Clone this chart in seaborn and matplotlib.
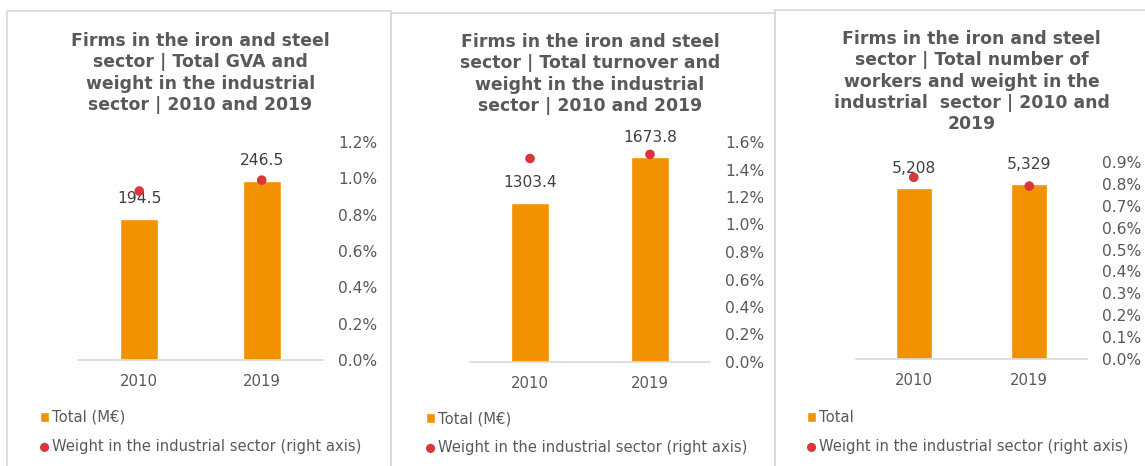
import matplotlib
matplotlib.use("Agg")
import matplotlib.pyplot as plt
from matplotlib.patches import Rectangle
from matplotlib.ticker import FuncFormatter, MultipleLocator
import seaborn as sns
import pandas as pd

# ---- data -------------------------------------------------------------
years = ["2010", "2019"]

gva_total = [194.5, 246.5]            # M€
gva_weight = [0.93, 0.99]             # % of industrial sector

turnover_total = [1303.4, 1673.8]     # M€
turnover_weight = [1.48, 1.51]

workers_total = [5208, 5329]          # persons
workers_weight = [0.83, 0.79]

titles = [
    "Firms in the iron and steel\nsector | Total GVA and\nweight in the industrial\nsector | 2010 and 2019",
    "Firms in the iron and steel\nsector | Total turnover and\nweight in the industrial\nsector | 2010 and 2019",
    "Firms in the iron and steel\nsector | Total number of\nworkers and weight in the\nindustrial  sector | 2010 and\n2019",
]
bar_labels = ["Total (M€)", "Total (M€)", "Total"]
dot_label = "Weight in the industrial sector (right axis)"

# ---- style ------------------------------------------------------------
sns.set_theme(style="white")
plt.rcParams["font.family"] = ["DejaVu Sans"]

ORANGE = "#F39200"
RED = "#D9383A"
GREY_TXT = "#595959"
DARK_TXT = "#404040"
LINE = "#D9D9D9"

W, H = 1145, 466
fig = plt.figure(figsize=(W / 100, H / 100), dpi=100)


def fx(px):
    return px / W


def fy(py):
    return 1 - py / H


# panel frames: (left, right, top) in pixels
frames = [(7, 391, 11), (391, 775, 13), (775, 1150, 10)]
for left, right, top in frames:
    fig.add_artist(Rectangle((fx(left), fy(470)), fx(right - left), fy(top) - fy(470),
                             transform=fig.transFigure, fill=False,
                             edgecolor=LINE, linewidth=1.2, zorder=0))

# plot areas: (left, right, top, baseline) in pixels
areas = [(78, 323, 142, 360), (470, 710, 142, 362), (856, 1087, 162, 359)]
left_max = [300, 1800, 6000]
right_max = [1.2, 1.6, 0.9]
right_step = [0.2, 0.2, 0.1]
title_top = [32, 33, 30]
legend_pos = [(40, 410), (426, 411), (807, 410)]

totals = [gva_total, turnover_total, workers_total]
weights = [gva_weight, turnover_weight, workers_weight]
fmts = [lambda v: f"{v:.1f}", lambda v: f"{v:.1f}", lambda v: f"{v:,.0f}"]

for i in range(3):
    l, r, t, b = areas[i]
    ax = fig.add_axes([fx(l), fy(b), fx(r - l), fy(t) - fy(b)])
    df = pd.DataFrame({"year": years, "total": totals[i], "weight": weights[i]})

    sns.barplot(data=df, x="year", y="total", color=ORANGE, width=0.31,
                saturation=1, ax=ax, label=bar_labels[i], legend=False)
    if ax.get_legend() is not None:
        ax.get_legend().remove()
    ax.set_ylim(0, left_max[i])
    ax.set_xlim(-0.5, 1.5)
    ax.set_xlabel("")
    ax.set_ylabel("")
    ax.set_yticks([])
    for s in ["left", "right", "top"]:
        ax.spines[s].set_visible(False)
    ax.spines["bottom"].set_color(LINE)
    ax.spines["bottom"].set_linewidth(1.2)
    ax.tick_params(axis="x", length=0, pad=10, labelsize=10.7, labelcolor=GREY_TXT)

    # value labels above bars
    for cont in ax.containers:
        ax.bar_label(cont, labels=[fmts[i](v) for v in totals[i]], padding=9,
                     fontsize=11.2, color=DARK_TXT)

    # weight on the secondary axis
    ax2 = ax.twinx()
    sns.scatterplot(data=df, x="year", y="weight", color=RED, s=48,
                    edgecolor="none", ax=ax2, zorder=5, label=dot_label,
                    legend=False)
    if ax2.get_legend() is not None:
        ax2.get_legend().remove()
    ax2.set_ylim(0, right_max[i])
    ax2.yaxis.set_major_locator(MultipleLocator(right_step[i]))
    ax2.yaxis.set_major_formatter(FuncFormatter(lambda v, p: f"{v:.1f}%"))
    ax2.set_ylabel("")
    for s in ["left", "right", "top", "bottom"]:
        ax2.spines[s].set_visible(False)
    ax2.tick_params(axis="y", length=0, pad=11, labelsize=11.2, labelcolor=GREY_TXT)
    ax2.grid(False)
    ax.set_zorder(1)
    ax2.set_zorder(2)
    ax.patch.set_visible(False)

    # title
    fig.text(fx((l + r) / 2), fy(title_top[i]), titles[i], ha="center", va="top",
             fontsize=12.4, fontweight="bold", color=GREY_TXT, linespacing=1.24)

    # legend
    h1, lab1 = ax.get_legend_handles_labels()
    h2, lab2 = ax2.get_legend_handles_labels()
    lx, ly = legend_pos[i]
    ax2.legend(h1 + h2, lab1 + lab2, loc="upper left",
               bbox_to_anchor=(fx(lx), fy(ly)), bbox_transform=fig.transFigure,
               frameon=False, fontsize=10.6, labelcolor=GREY_TXT,
               handlelength=0.62, handleheight=0.62, handletextpad=0.2,
               labelspacing=0.95, borderaxespad=0, borderpad=0,
               markerscale=0.95)

fig.savefig("out.png", dpi=100, facecolor="white")
